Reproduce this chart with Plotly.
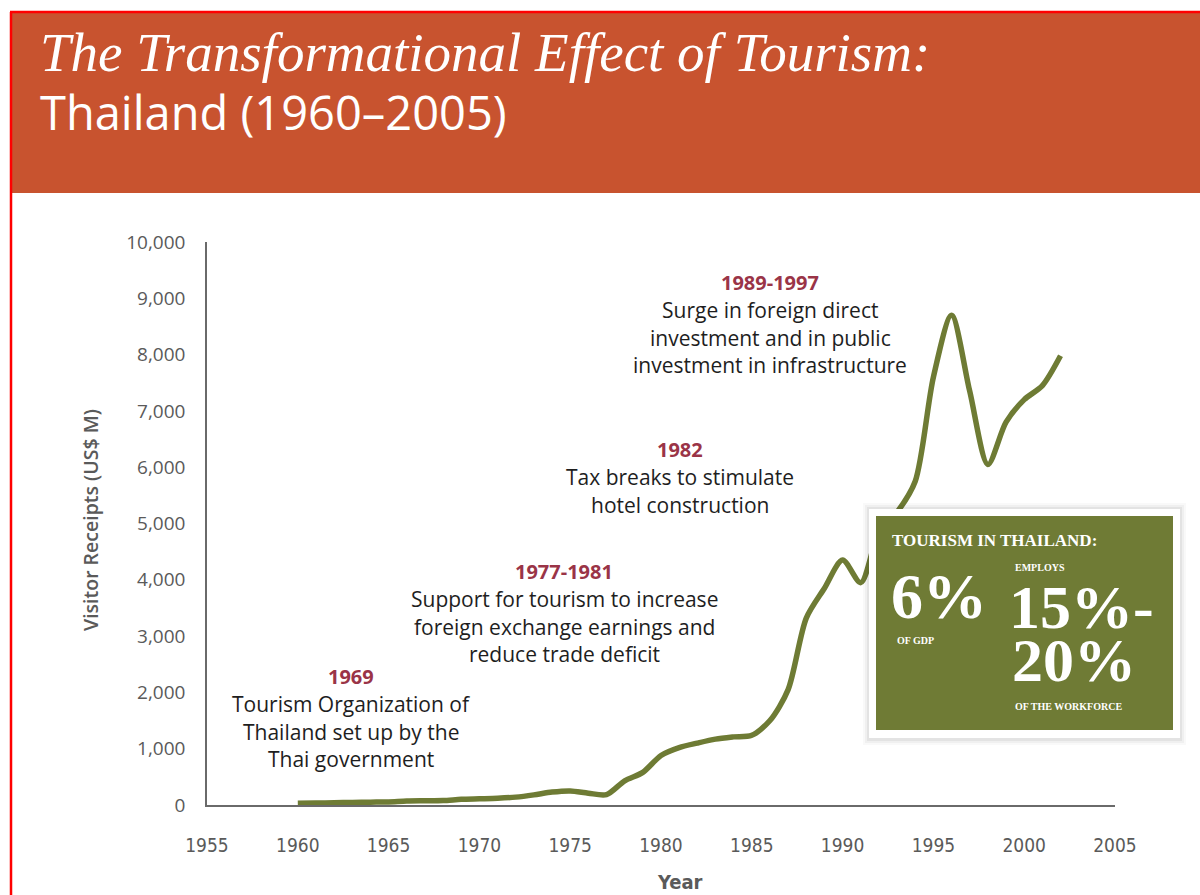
import plotly.graph_objects as go

# ---------------- data ----------------
years = list(range(1960, 2003))
receipts = [30, 35, 40, 45, 50, 55, 70, 75, 80, 100,
            110, 120, 140, 180, 230, 250, 210, 185, 430, 580,
            880, 1020, 1100, 1170, 1210, 1240, 1500, 2050, 3320, 3850,
            4350, 3950, 4850, 5200, 5750, 7600, 8700, 7350, 6050, 6800,
            7200, 7450, 7980]

x_ticks = list(range(1955, 2006, 5))
y_ticks = list(range(0, 10001, 1000))

title_main = "The Transformational Effect of Tourism:"
title_sub = "Thailand (1960–2005)"

events = [
    ("1989-1997", ["Surge in foreign direct", "investment and in public", "investment in infrastructure"], 770, 282),
    ("1982", ["Tax breaks to stimulate", "hotel construction"], 680, 449),
    ("1977-1981", ["Support for tourism to increase", "foreign exchange earnings and", "reduce trade deficit"], 564, 571),
    ("1969", ["Tourism Organization of", "Thailand set up by the", "Thai government"], 351, 676),
]

# ---------------- layout geometry (pixels) ----------------
W, H = 1200, 895
L, R, T, B = 207, 1115, 242, 805   # plot area in pixels


def px(xp):
    return (xp - L) / (R - L)


def py(yp):
    return (B - yp) / (B - T)


OLIVE = "#6F7B35"
LINE = "#6E7B34"
HEADER = "#C8532F"
RED_YEAR = "#9A3447"
TEXT = "#1E1E1E"
AXIS_TXT = "#5A5A5A"
NARROW = "DejaVu Sans Condensed, Roboto Condensed, Roboto, sans-serif"

fig = go.Figure()
fig.add_trace(go.Scatter(
    x=years, y=receipts, mode="lines",
    line=dict(color=LINE, width=5.5, shape="spline", smoothing=0.8),
    hoverinfo="skip", showlegend=False,
))

shapes = []
# header band
shapes.append(dict(type="rect", xref="paper", yref="paper",
                   x0=px(12), x1=px(1200), y0=py(193), y1=py(13),
                   fillcolor=HEADER, line=dict(width=0), layer="below"))
# red frame lines
shapes.append(dict(type="line", xref="paper", yref="paper",
                   x0=px(11), x1=px(11), y0=py(895), y1=py(12),
                   line=dict(color="#FF0000", width=2.5)))
shapes.append(dict(type="line", xref="paper", yref="paper",
                   x0=px(10), x1=px(1200), y0=py(12), y1=py(12),
                   line=dict(color="#FF0000", width=2.5)))
# box shadow layers
for i, op in enumerate([0.025, 0.035, 0.05]):
    d = 6 - 2 * i
    shapes.append(dict(type="rect", xref="paper", yref="paper",
                       x0=px(869 - d), x1=px(1180 + d), y0=py(739 + d), y1=py(509 - d),
                       fillcolor=f"rgba(0,0,0,{op})", line=dict(width=0), layer="above"))
# white frame
shapes.append(dict(type="rect", xref="paper", yref="paper",
                   x0=px(869), x1=px(1180), y0=py(738), y1=py(509),
                   fillcolor="white", line=dict(width=0), layer="above"))
# olive panel
shapes.append(dict(type="rect", xref="paper", yref="paper",
                   x0=px(876), x1=px(1173), y0=py(730), y1=py(516),
                   fillcolor=OLIVE, line=dict(width=0), layer="above"))

annotations = []
# titles
annotations.append(dict(text=title_main, xref="paper", yref="paper",
                        x=px(38), y=py(52), xanchor="left", yanchor="middle", showarrow=False,
                        font=dict(family="Liberation Serif", size=55, color="white", style="italic")))
annotations.append(dict(text=title_sub, xref="paper", yref="paper",
                        x=px(38), y=py(112), xanchor="left", yanchor="middle", showarrow=False,
                        font=dict(family="Open Sans", size=47, color="white", weight=400)))

# event annotations
for yr, lines, cx, cy in events:
    annotations.append(dict(text=yr, xref="paper", yref="paper", x=px(cx), y=py(cy),
                            xanchor="center", yanchor="middle", showarrow=False,
                            font=dict(family="Open Sans", size=20, color=RED_YEAR, weight=700)))
    for i, ln in enumerate(lines):
        annotations.append(dict(text=ln, xref="paper", yref="paper", x=px(cx), y=py(cy + 28 + 27.5 * i),
                                xanchor="center", yanchor="middle", showarrow=False,
                                font=dict(family="Open Sans", size=21, color=TEXT)))

# box texts
SERIF = "Liberation Serif"
box_texts = [
    ("TOURISM IN THAILAND:", 890, 540, 17, 700),
    ("6%", 889, 596, 64, 700),
    ("OF GDP", 895, 640, 10, 700),
    ("EMPLOYS", 1013, 567, 10, 700),
    ("15%-", 1007, 607, 62, 700),
    ("20%", 1010, 660, 62, 700),
    ("OF THE WORKFORCE", 1013, 706, 10, 700),
]
for t, x0, y0, s, w in box_texts:
    annotations.append(dict(text=t, xref="paper", yref="paper", x=px(x0), y=py(y0),
                            xanchor="left", yanchor="middle", showarrow=False,
                            font=dict(family=SERIF, size=s, color="white", weight=w)))

# axis titles
annotations.append(dict(text="Visitor Receipts (US$ M)", xref="paper", yref="paper",
                        x=px(90), y=py(520), textangle=-90, xanchor="center", yanchor="middle",
                        showarrow=False, font=dict(family="Open Sans", size=19.5, color=AXIS_TXT, weight=600)))
annotations.append(dict(text="Year", xref="paper", yref="paper",
                        x=px(680), y=py(882), xanchor="center", yanchor="middle",
                        showarrow=False, font=dict(family=NARROW, size=20, color=AXIS_TXT, weight=700)))

fig.update_layout(
    width=W, height=H,
    margin=dict(l=L, r=W - R, t=T, b=H - B, pad=0),
    paper_bgcolor="white", plot_bgcolor="white",
    shapes=shapes, annotations=annotations,
    showlegend=False,
)
fig.update_xaxes(range=[1955, 2005], tickvals=x_ticks, ticktext=[str(v) for v in x_ticks],
                 showgrid=False, zeroline=False, showline=True, linecolor="#6A6A6A", linewidth=1.5,
                 ticks="", ticklabelstandoff=22,
                 tickfont=dict(family=NARROW, size=19, color=AXIS_TXT))
fig.update_yaxes(range=[0, 10000], tickvals=y_ticks, tickformat=",",
                 showgrid=False, zeroline=False, showline=True, linecolor="#6A6A6A", linewidth=1.5,
                 ticks="", ticklabelstandoff=16,
                 tickfont=dict(family="Open Sans", size=19, color=AXIS_TXT))

fig.write_html("out.html", config={"displayModeBar": False},
               post_script="document.body.style.margin='0';document.body.style.overflow='hidden';")
